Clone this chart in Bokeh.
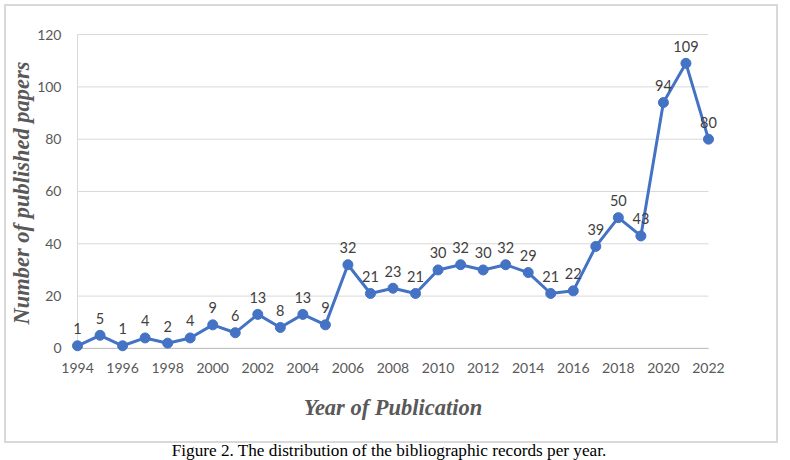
from bokeh.plotting import figure
from bokeh.models import Range1d, FixedTicker, ColumnDataSource, Div
from bokeh.layouts import column
from bokeh.core.properties import value
from bokeh.embed import file_html
from bokeh.resources import INLINE

years = list(range(1994, 2023))
papers = [1, 5, 1, 4, 2, 4, 9, 6, 13, 8, 13, 9, 32, 21, 23, 21, 30, 32, 30, 32,
          29, 21, 22, 39, 50, 43, 94, 109, 80]
x_ticks = list(range(1994, 2023, 2))
y_ticks = [0, 20, 40, 60, 80, 100, 120]

x_title = "Year of Publication"
y_title = "Number of published papers"
caption = "Figure 2. The distribution of the bibliographic records per year."

# layout in pixels
px_x = 630 / (years[-1] - years[0])
px_y = 310 / (y_ticks[-1] - y_ticks[0])
pad_l, pad_r = 9, 9
pad_b, pad_t = 8, 5

p = figure(width=774, height=439, output_backend="svg", toolbar_location=None,
           x_range=Range1d(years[0] - pad_l / px_x, years[-1] + pad_r / px_x),
           y_range=Range1d(y_ticks[0] - pad_b / px_y, y_ticks[-1] + pad_t / px_y),
           min_border_left=62, min_border_right=63, min_border_top=23, min_border_bottom=89)
p.outline_line_color = None
p.background_fill_color = "white"
p.border_fill_color = "white"
p.xgrid.visible = False
p.ygrid.visible = False
p.styles = {"border": "2px solid #d9d9d9", "margin-left": "4px", "margin-top": "4px"}

# grid lines
p.segment(x0=[years[0]] * len(y_ticks), x1=[years[-1]] * len(y_ticks), y0=y_ticks, y1=y_ticks,
          line_color="#d9d9d9", line_width=1)
p.segment(x0=[years[0]], x1=[years[0]], y0=[y_ticks[0]], y1=[y_ticks[-1]],
          line_color="#d9d9d9", line_width=1)
p.segment(x0=[years[0]], x1=[years[-1]], y0=[y_ticks[0]], y1=[y_ticks[0]],
          line_color="#bfbfbf", line_width=1)

src = ColumnDataSource(dict(x=years, y=papers, t=[str(v) for v in papers]))
p.line("x", "y", source=src, line_color="#4472C4", line_width=3)
p.scatter("x", "y", source=src, size=10, fill_color="#4472C4", line_color="#4472C4")
p.text("x", "y", text="t", source=src, text_font=value("Lato"), text_font_size="14.5px",
       text_color="#404040", text_align="center", text_baseline="alphabetic", y_offset=-17)

for ax in (p.xaxis[0], p.yaxis[0]):
    ax.axis_line_color = None
    ax.major_tick_line_color = None
    ax.minor_tick_line_color = None
    ax.major_tick_out = 0
    ax.major_tick_in = 0
    ax.minor_tick_out = 0
    ax.minor_tick_in = 0
    ax.major_label_text_font = "Lato"
    ax.major_label_text_font_size = "14px"
    ax.major_label_text_color = "#595959"
    ax.axis_label_text_font = "Liberation Serif"
    ax.axis_label_text_font_style = "bold italic"
    ax.axis_label_text_font_size = "22.5px"
    ax.axis_label_text_color = "#595959"

p.xaxis.ticker = FixedTicker(ticks=x_ticks)
p.yaxis.ticker = FixedTicker(ticks=y_ticks)
p.xaxis.axis_label = x_title
p.yaxis.axis_label = y_title
p.xaxis.major_label_standoff = 6
p.yaxis.major_label_standoff = 7
p.xaxis.axis_label_standoff = 19
p.yaxis.axis_label_standoff = 0

cap = Div(text=caption, width=768,
          styles={"font-family": "Liberation Serif", "font-size": "17.2px", "color": "black",
                  "text-align": "center", "line-height": "14px", "margin-top": "1px"})

layout = column(p, cap)
open("out.html", "w").write(file_html(layout, INLINE))
